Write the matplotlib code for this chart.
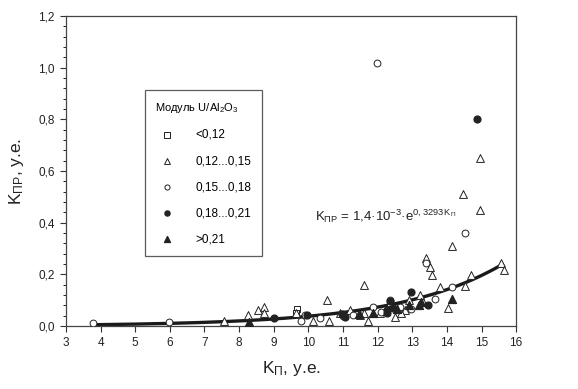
import numpy as np
import matplotlib.pyplot as plt
from matplotlib.ticker import FuncFormatter, MultipleLocator

plt.rcParams['font.family'] = ['Liberation Sans', 'DejaVu Sans']
plt.rcParams['mathtext.fontset'] = 'custom'
plt.rcParams['mathtext.rm'] = 'Liberation Sans'
plt.rcParams['mathtext.it'] = 'Liberation Sans'

# Groups by module U/Al2O3
sq_x = [9.66, 9.65, 12.35]
sq_y = [0.065, 0.05, 0.09]

tri_x = [7.57, 8.27, 8.54, 8.73, 8.73, 9.64, 10.13, 10.55, 10.6, 11.62, 11.73, 12.07,
         12.5, 13.22, 13.4, 13.51, 13.58, 13.8, 14.02, 14.14, 14.46, 14.52, 14.7,
         14.96, 14.96, 15.56, 15.65, 11.2, 11.6, 12.8, 12.9, 10.9, 11.5, 12.67, 12.6, 13.3]
tri_y = [0.019, 0.041, 0.062, 0.072, 0.049, 0.049, 0.019, 0.10, 0.019, 0.159, 0.019, 0.049,
         0.036, 0.12, 0.262, 0.23, 0.197, 0.15, 0.068, 0.31, 0.51, 0.155, 0.197,
         0.65, 0.45, 0.243, 0.217, 0.062, 0.05, 0.06, 0.10, 0.05, 0.043, 0.05, 0.068, 0.094]

circ_x = [3.79, 5.98, 9.79, 9.9, 10.34, 11.0, 11.97, 11.88, 12.36, 12.96, 13.4, 13.66,
          14.14, 14.52, 11.3, 12.1, 12.65]
circ_y = [0.013, 0.014, 0.021, 0.043, 0.03, 0.039, 1.017, 0.072, 0.10, 0.065, 0.243, 0.103,
          0.152, 0.359, 0.043, 0.055, 0.075]

dot_x = [9.01, 9.97, 10.96, 11.06, 12.26, 12.26, 12.37, 12.96, 13.45, 14.88, 12.45]
dot_y = [0.03, 0.043, 0.046, 0.036, 0.062, 0.052, 0.097, 0.133, 0.081, 0.80, 0.068]

ftri_x = [8.3, 11.88, 12.55, 13.2, 13.25, 14.14, 11.45, 12.9]
ftri_y = [0.017, 0.049, 0.065, 0.081, 0.094, 0.105, 0.046, 0.08]

labels = ['<0,12', '0,12...0,15', '0,15...0,18', '0,18...0,21', '>0,21']

# trend: K_pr = 1.4e-3 * exp(0.3293 * K_p)
a, b = 1.4e-3, 0.3293
xf = np.linspace(3.8, 15.6, 200)
yf = a * np.exp(b * xf)

fig = plt.figure(figsize=(5.78, 3.89), dpi=100)
ax = fig.add_axes([0.114, 0.162, 0.779, 0.797])

ax.plot(xf, yf, color='#1a1a1a', lw=2.4, zorder=1)

ms = 24
ax.scatter(sq_x, sq_y, marker='s', s=ms, facecolors='white', edgecolors='#222', lw=0.7, label=labels[0], zorder=3)
ax.scatter(tri_x, tri_y, marker='^', s=ms + 8, facecolors='white', edgecolors='#222', lw=0.7, label=labels[1], zorder=3)
ax.scatter(circ_x, circ_y, marker='o', s=ms, facecolors='white', edgecolors='#222', lw=0.7, label=labels[2], zorder=3)
ax.scatter(dot_x, dot_y, marker='o', s=ms, color='#222', label=labels[3], zorder=3)
ax.scatter(ftri_x, ftri_y, marker='^', s=ms + 8, color='#222', label=labels[4], zorder=3)

ax.set_xlim(3, 16)
ax.set_ylim(0, 1.2)
ax.xaxis.set_major_locator(MultipleLocator(1))
ax.yaxis.set_major_locator(MultipleLocator(0.2))
ax.yaxis.set_minor_locator(MultipleLocator(0.04))
ax.yaxis.set_major_formatter(FuncFormatter(lambda v, p: f'{v:.1f}'.replace('.', ',')))
ax.tick_params(labelsize=8.5, color='#333', labelcolor='#222', width=0.8, length=4, pad=4)
ax.tick_params(which='minor', length=2.5, width=0.6)
for s in ax.spines.values():
    s.set_color('#444')
    s.set_linewidth(0.9)

ax.set_xlabel(r'K$_{\mathrm{П}}$, у.е.', fontsize=12.5, color='#222', labelpad=7)
ax.set_ylabel(r'K$_{\mathrm{ПР}}$, у.е.', fontsize=12.5, color='#222', labelpad=9)

ax.text(10.2, 0.405, r'K$_{\mathrm{ПР}}$ = 1,4·10$^{\mathrm{-3}}$·e$^{\mathrm{0,3293\,K_{П}}}$',
        fontsize=9.5, color='#222')

leg = ax.legend(title=r'Модуль U/Al$_{\mathrm{2}}$O$_{\mathrm{3}}$', loc='upper left',
                bbox_to_anchor=(0.162, 0.78), fontsize=8.5, title_fontsize=8,
                frameon=True, fancybox=False, edgecolor='#333', markerscale=0.75,
                handletextpad=1.4, labelspacing=1.2, borderpad=0.9, alignment='left')
leg.get_frame().set_linewidth(0.9)

plt.savefig('out.png', dpi=100)
